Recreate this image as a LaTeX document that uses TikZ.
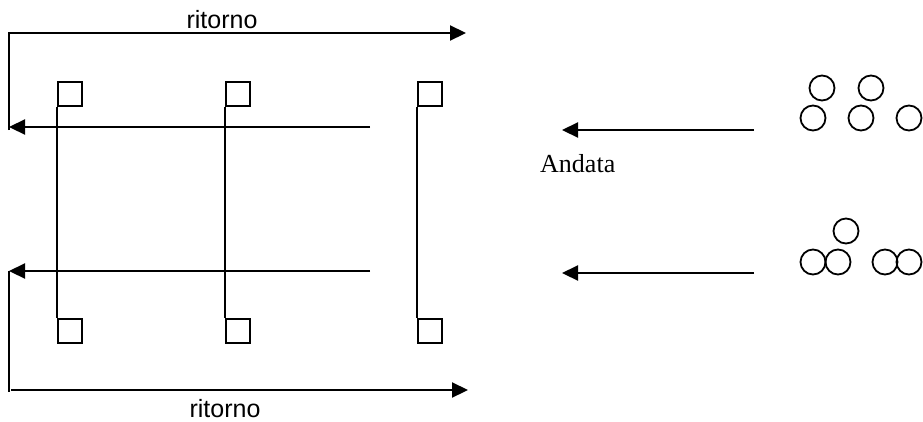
\documentclass[tikz,border=0pt]{standalone}
\usepackage{fontspec}
\setmainfont{Liberation Serif}
\newfontfamily\ritfont{Liberation Sans}
\usetikzlibrary{arrows.meta}
\begin{document}
\begin{tikzpicture}[x=1pt,y=-1pt,
  arr/.style={line width=2.2pt,-{Triangle[length=16pt,width=15pt]}},
  plain/.style={line width=2pt},
  sq/.style={draw,line width=1.7pt,minimum size=24pt,inner sep=0pt,anchor=north west},
  stem/.style={line width=1.7pt},
  ball/.style={draw,circle,line width=1.8pt,minimum size=25pt,inner sep=0pt},
  rit/.style={font=\ritfont\fontsize{25}{29}\selectfont,anchor=base,inner sep=0pt},
  anda/.style={font=\fontsize{26}{30}\selectfont,anchor=base west,inner sep=0pt}]
\useasboundingbox (0,0) rectangle (923,421);
% return paths
\coordinate (tl1) at (9,130);
\coordinate (tl2) at (9,33);
\coordinate (tr) at (466,33);
\draw[plain] (tl1) -- (tl2);
\draw[arr] ([xshift=-1pt]tl2) -- (tr);
\coordinate (bl1) at (9,271);
\coordinate (bl2) at (9,392);
\coordinate (bls) at (11,390);
\coordinate (br) at (468,390);
\draw[plain] (bl1) -- (bl2);
\draw[arr] (bls) -- (br);
\node[rit] (rtop) at (222,28) {ritorno};
\node[rit] (rbot) at (225,417) {ritorno};
% left arrows
\coordinate (a1s) at (370,127); \coordinate (a1e) at (9,127);
\coordinate (a2s) at (370,271); \coordinate (a2e) at (9,271);
\draw[arr] (a1s) -- (a1e);
\draw[arr] (a2s) -- (a2e);
% squares and stems
\foreach \n/\x in {1/57,2/225,3/417}{
  \node[sq] (t\n) at (\x,81) {};
  \node[sq] (b\n) at (\x,318) {};
  \draw[stem] (t\n.south west) -- (b\n.north west);
}
% right arrows
\coordinate (r1s) at (754,130); \coordinate (r1e) at (562,130);
\coordinate (r2s) at (754,273); \coordinate (r2e) at (562,273);
\draw[arr] (r1s) -- (r1e);
\draw[arr] (r2s) -- (r2e);
\node[anda] (andata) at (540,172) {Andata};
% balls
\node[ball] (c1) at (822,88) {};
\node[ball] (c2) at (871,88) {};
\node[ball] (c3) at (813,118) {};
\node[ball] (c4) at (861,118) {};
\node[ball] (c5) at (909,118) {};
\node[ball] (d1) at (846,231) {};
\node[ball] (d2) at (813,262) {};
\node[ball] (d3) at (838,262) {};
\node[ball] (d4) at (885,262) {};
\node[ball] (d5) at (909,262) {};
\end{tikzpicture}
\end{document}
